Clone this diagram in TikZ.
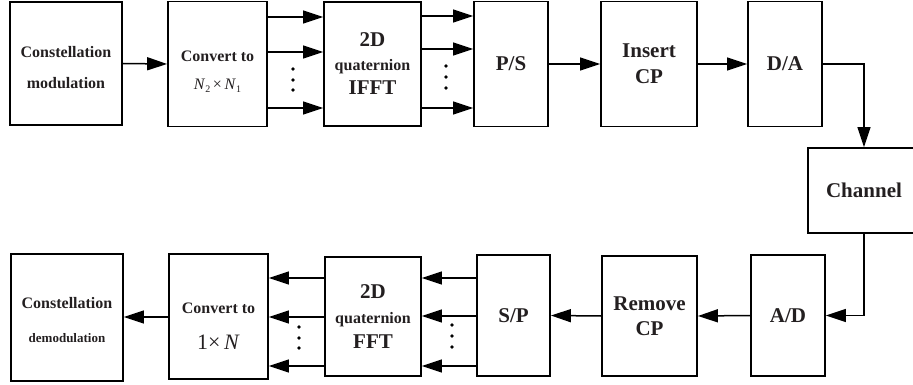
\documentclass[tikz,border=0pt]{standalone}
\usepackage{fontspec}
\setmainfont{Liberation Serif}
\usetikzlibrary{arrows.meta}
\definecolor{ink}{RGB}{35,31,32}
\newcommand{\bigtxt}{\fontsize{21}{24}\selectfont}
\newcommand{\smalltxt}{\fontsize{13}{24}\selectfont}
% strut that lowers a multi-line label inside its box
\newcommand{\topstrut}[1]{\rule{0pt}{#1}}
\tikzset{
  blk/.style={draw=black, line width=1.8pt, inner sep=0pt, align=center,
    text=ink, font=\bfseries},
  arr/.style={line width=1.5pt, -{Triangle[length=20pt,width=13pt]}},
  dotmark/.style={fill=black},
}
\begin{document}
\begin{tikzpicture}[x=1pt,y=-1pt]
\useasboundingbox (0,0) rectangle (913,385);
\clip (0,0) rectangle (913,385);

% ---------------- transmitter chain ----------------
\node[blk, minimum width=112pt, minimum height=123pt, font=\bfseries\fontsize{16}{31}\selectfont]
  (cm) at (66,63.5) {\topstrut{18.8pt}Constellation\\modulation};
\node[blk, minimum width=99pt, minimum height=125pt, font=\bfseries\fontsize{16}{28}\selectfont]
  (conv1) at (217.5,64) {\topstrut{26.8pt}Convert to\\{\mdseries\itshape N\/}{\mdseries\raisebox{-3pt}{\fontsize{10}{10}\selectfont 2}}\,{\mdseries ×}\,{\mdseries\itshape N\/}{\mdseries\raisebox{-3pt}{\fontsize{10}{10}\selectfont 1}}};
\node[blk, minimum width=97pt, minimum height=124pt, font=\bfseries\fontsize{16}{24}\selectfont]
  (ifft) at (372.5,64) {{\bigtxt 2D}\\quaternion\\{\bigtxt IFFT}};
\node[blk, minimum width=74pt, minimum height=125pt, font=\bfseries\bigtxt]
  (ps) at (511,64) {P/S};
\node[blk, minimum width=96pt, minimum height=125pt, font=\bfseries\fontsize{21}{26}\selectfont]
  (icp) at (649,64) {Insert\\CP};
\node[blk, minimum width=74pt, minimum height=125pt, font=\bfseries\bigtxt]
  (da) at (785,64) {D/A};

% ---------------- channel ----------------
\node[blk, minimum width=112pt, minimum height=85pt, font=\bfseries\bigtxt]
  (ch) at (864,190.5) {Channel};

% ---------------- receiver chain ----------------
\node[blk, minimum width=74pt, minimum height=121pt, font=\bfseries\bigtxt]
  (ad) at (788,315.5) {A/D};
\node[blk, minimum width=95pt, minimum height=120pt, font=\bfseries\fontsize{21}{25}\selectfont]
  (rcp) at (649.5,316) {Remove\\CP};
\node[blk, minimum width=73pt, minimum height=121pt, font=\bfseries\bigtxt]
  (sp) at (513.5,315.5) {S/P};
\node[blk, minimum width=96pt, minimum height=119pt, font=\bfseries\fontsize{16}{25}\selectfont]
  (fft) at (373,316.5) {{\bigtxt 2D}\\quaternion\\{\bigtxt FFT}};
\node[blk, minimum width=99pt, minimum height=125pt, font=\bfseries\fontsize{16}{36}\selectfont]
  (conv2) at (218.5,316.5) {\topstrut{29.8pt}Convert to\\{\mdseries\fontsize{22}{36}\selectfont 1×\,\textit{N}}};
\node[blk, minimum width=112pt, minimum height=127pt, font=\bfseries\fontsize{16}{34}\selectfont]
  (cdm) at (67,317.5) {\topstrut{16.8pt}Constellation\\{\smalltxt demodulation}};

% ---------------- connectors ----------------
\draw[arr] (cm.east) -- (conv1.west);
\foreach \yy in {17,52,108}
  \draw[arr] (conv1.east |- 0,\yy) -- (ifft.west |- 0,\yy);
\foreach \yy in {16,49,108}
  \draw[arr] (ifft.east |- 0,\yy) -- (ps.west |- 0,\yy);
\draw[arr] (ps.east) -- (icp.west);
\draw[arr] (icp.east) -- (da.west);
\draw[arr] (da.east) -| (ch.north);
\draw[arr] (ch.south) |- (ad.east);
\draw[arr] (ad.west) -- (rcp.east);
\draw[arr] (rcp.west) -- (sp.east);
\foreach \yy in {278,316,366}
  \draw[arr] (sp.west |- 0,\yy) -- (fft.east |- 0,\yy);
\foreach \yy in {278,317,366}
  \draw[arr] (fft.west |- 0,\yy) -- (conv2.east |- 0,\yy);
\draw[arr] (conv2.west |- 0,317) -- (cdm.east |- 0,317);

% ---------------- ellipsis dots between parallel lines ----------------
\foreach \yy in {69,80,90} \fill[dotmark] (293,\yy) circle (1.9pt);
\foreach \yy in {66,77,88} \fill[dotmark] (446,\yy) circle (1.9pt);
\foreach \yy in {327,338,348} \fill[dotmark] (299,\yy) circle (1.9pt);
\foreach \yy in {325,336,347} \fill[dotmark] (452,\yy) circle (1.9pt);
\end{tikzpicture}
\end{document}
